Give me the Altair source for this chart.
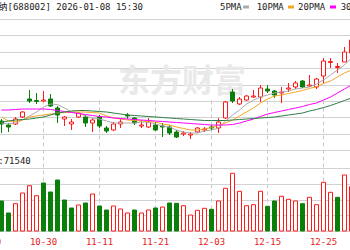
import altair as alt
import pandas as pd

# ---------------- data ----------------
lead_dates = ["10-20", "10-21"]
dates = ["10-22", "10-23", "10-24", "10-27", "10-28", "10-29", "10-30", "10-31",
         "11-03", "11-04", "11-05", "11-06", "11-07", "11-10", "11-11",
         "11-12", "11-13", "11-14", "11-17", "11-18", "11-19", "11-20", "11-21",
         "11-24", "11-25", "11-26", "11-27", "11-28", "12-01", "12-02", "12-03",
         "12-04", "12-05", "12-08", "12-09", "12-10", "12-11", "12-12", "12-15",
         "12-16", "12-17", "12-18", "12-19", "12-22", "12-23", "12-24", "12-25",
         "12-26", "12-29", "12-30", "12-31"]
label_dates = ["10-20", "10-30", "11-11", "11-21", "12-03", "12-15", "12-25"]

open_ = [89.5, 87.5, 88, 91.5, 100.5, 99.75, 99.5, 100.5, 96, 90.5,
         88, 91.5, 91.5, 88.5, 91.5, 86, 85, 88, 92.5, 91,
         87, 86.5, 87.5, 87, 86.5, 84, 83, 82.5, 84, 85,
         86.5, 86, 91, 104, 98, 100, 101.5, 101.5, 105.5, 104.5,
         103.5, 105.5, 106.5, 109.5, 107, 106.5, 112, 118.75, 116.25, 119,
         123.5]
close = [88, 86.5, 90.5, 94, 99.5, 99.25, 100, 97, 92.5, 91.5,
         89, 93.5, 88.5, 90, 87, 84.5, 88, 89, 92, 88.5,
         87.5, 89, 85, 86.5, 83.5, 81.5, 83.5, 83, 86, 85.5,
         86, 89, 99, 99.5, 100.5, 102, 102, 106, 104.5, 102.5,
         104, 106, 108.5, 106.5, 107.5, 110.5, 119.5, 119.25, 116.75, 124,
         130]
high = [90.5, 88.5, 91.5, 94.5, 105, 103.5, 104.5, 103, 97, 92,
        90.5, 94, 92.5, 91, 92.5, 87, 89, 90.5, 93.5, 91.5,
        90, 91, 89, 88.5, 87.5, 85, 84.5, 84, 86.5, 86.5,
        87.5, 91, 99.5, 105.5, 101.5, 102.5, 105, 107.5, 107.5, 105,
        106.5, 108.5, 109.5, 110, 112.5, 111, 121, 121, 118.5, 126.5,
        132]
low = [83.5, 84, 87.5, 91, 98.5, 98, 99, 96.5, 88.5, 87,
       85, 91, 86.5, 84, 86, 83.5, 84.5, 86, 90.5, 87.5,
       86, 86, 84.5, 81.5, 82.5, 81, 82, 80.5, 83.5, 84,
       85, 83.5, 90.5, 98.5, 97.5, 99.5, 101, 99, 103.5, 101,
       98.5, 104, 105.5, 106, 106.5, 105.5, 108.5, 116, 113.5, 119,
       123]
ma5 = [88.5, 88, 88.5, 90, 92, 94, 96.5, 98, 97.75, 96,
       94, 93.5, 92, 91, 90.5, 89.5, 88.5, 88.5, 88.5, 88.5,
       89, 89, 88, 87, 86.5, 85, 84, 83.5, 83.5, 84.5,
       85, 86, 89.5, 92.5, 95, 98, 100, 101.5, 102.5, 103.5,
       104, 104.5, 105.5, 106, 106.5, 108, 110, 112.5, 115, 117.5,
       121]
ma10 = [91.5, 89.5, 89.25, 90, 91.5, 92, 92.5, 93, 93.5, 93.75,
        94, 94, 94, 93.75, 93.5, 92, 91, 90.5, 90, 89.75,
        89.5, 89.25, 89, 88, 87.5, 86.5, 85.75, 85, 85, 85.5,
        86.25, 87.25, 88.5, 90, 92, 94, 96, 98.5, 100.5, 102,
        102.5, 103.25, 104, 104.75, 105.75, 106.75, 108.25, 109.5, 111.5, 113.5,
        115]
ma20 = [95, 95, 95.25, 95.5, 95.5, 95.5, 95.5, 95.25, 94.75, 94.25,
        93.75, 93.25, 92.75, 92.25, 91.75, 91.5, 91, 90.75, 90.5, 90.25,
        90, 89.75, 89.5, 89.25, 89, 88.75, 88.5, 88.25, 88, 87.75,
        87.5, 87.5, 87.5, 87.75, 88.5, 89.5, 90.5, 91.75, 93, 93.75,
        94.5, 95.25, 96, 96.75, 97.75, 98.5, 100, 101.5, 103.5, 105.5,
        107.5]
ma30 = [89, 89.5, 90, 90.25, 90.5, 91, 91.5, 92.5, 93.5, 94,
        94.5, 94.75, 94.75, 94.5, 94.25, 94, 93.5, 93, 92.5, 92.25,
        92, 91.75, 91.5, 91.25, 91, 90.75, 90.5, 90.25, 90, 89.75,
        89.75, 89.75, 89.75, 90, 90.25, 90.5, 90.75, 91, 91.25, 91.5,
        92, 92.5, 93, 93.5, 94.5, 95.25, 96.25, 97.25, 98.5, 99.75,
        101]
volume = [30000, 18000, 27300, 38000, 45300, 35300, 48000, 39000, 51000, 31000,
          23000, 26000, 28000, 37000, 25000, 21000, 25000, 22000, 18000, 21000,
          18000, 21000, 23000, 24000, 28000, 27700, 25300, 16000, 20700, 22700,
          21700, 30000, 42700, 57700, 39700, 25300, 26300, 39700, 24700, 30000,
          34700, 31700, 30000, 27300, 33700, 26300, 48700, 38700, 33700, 56000,
          44300]
vol_color = ["G", "G", "R", "R", "R", "R", "G", "G", "G", "G",
             "G", "R", "G", "R", "G", "G", "R", "R", "R", "G",
             "R", "R", "G", "R", "G", "G", "R", "R", "R", "R",
             "G", "R", "R", "R", "R", "R", "R", "R", "G", "G",
             "R", "R", "R", "G", "R", "R", "R", "R", "G", "R",
             "R"]

title_text = "睿创微纳[688002] 2026-01-08 15:30"
legend_labels = ["5PMA", "10PMA", "20PMA", "30PMA"]
legend_colors = ["#aaaaaa", "#f5a623", "#ff00ff", "#2e7d46"]
vol_text = "VOL:71540"
watermark = "东方财富"

# ---------------- table ----------------
df = pd.DataFrame({
    "idx": list(range(len(dates))), "date": dates,
    "open": open_, "close": close, "high": high, "low": low,
    "MA5": ma5, "MA10": ma10, "MA20": ma20, "MA30": ma30,
    "volume": volume,
})
df["dir"] = ["up" if c >= o else "down" for o, c in zip(open_, close)]
df["vdir"] = ["up" if v == "R" else "down" for v in vol_color]

RED = "#ff1a1a"
GREEN = "#0a7f0a"
MONO = "DejaVu Sans Mono, Noto Sans CJK SC"

x_enc = alt.X(
    "date:N",
    scale=alt.Scale(type="band", domain=lead_dates + dates, range=[-16, 355],
                    paddingInner=0, paddingOuter=0),
    axis=alt.Axis(values=label_dates, title=None, grid=True, gridDash=[4, 3],
                  gridColor="#c8c8c8", gridWidth=1, domain=False, ticks=False,
                  tickSize=0, labelPadding=10, labelBaseline="middle",
                  labelColor="#e82020", labelFont="DejaVu Sans Mono", labelFontSize=9,
                  labelOverlap=False, labelFlush=False, labelAngle=0, bandPosition=0.5),
)

price_grid = [75 + i * 8.1875 for i in range(9)]
price_scale = alt.Scale(domain=[75, 140.5], range=[131, 0], nice=False, zero=False)
price_axis = alt.Axis(values=price_grid, grid=True, gridColor="#d2d2d2", labels=False,
                      ticks=False, domain=False, title=None)

stroke_scale = alt.Scale(domain=["up", "down"], range=[RED, GREEN])
fill_scale = alt.Scale(domain=["up", "down"], range=["#ffffff", GREEN])

wicks = alt.Chart(df).mark_rule(strokeWidth=1).encode(
    x=x_enc,
    y=alt.Y("low:Q", scale=price_scale, axis=price_axis),
    y2="high:Q",
    stroke=alt.Stroke("dir:N", scale=stroke_scale, legend=None),
)
bodies = alt.Chart(df).mark_bar(size=4, strokeWidth=1).encode(
    x=x_enc,
    y=alt.Y("open:Q", scale=price_scale, axis=price_axis),
    y2="close:Q",
    fill=alt.Fill("dir:N", scale=fill_scale, legend=None),
    stroke=alt.Stroke("dir:N", scale=stroke_scale, legend=None),
)
ma_lines = alt.Chart(df).transform_fold(
    ["MA5", "MA10", "MA20", "MA30"], as_=["ma", "val"]
).mark_line(strokeWidth=1).encode(
    x=x_enc,
    y=alt.Y("val:Q", scale=price_scale, axis=price_axis),
    color=alt.Color("ma:N", scale=alt.Scale(domain=["MA5", "MA10", "MA20", "MA30"],
                                            range=legend_colors), legend=None),
    order=alt.Order("idx:Q"),
)
price = alt.layer(wicks, bodies, ma_lines)

vol_scale = alt.Scale(domain=[0, 63000], range=[212, 149], nice=False, zero=True)
vol_axis = alt.Axis(values=[0, 15750, 31500, 47250, 63000], grid=True, gridColor="#d2d2d2",
                    labels=False, ticks=False, domain=False, title=None, orient="right")
vol = alt.Chart(df).mark_bar(size=4, strokeWidth=1).encode(
    x=x_enc,
    y=alt.Y("volume:Q", scale=vol_scale, axis=vol_axis),
    fill=alt.Fill("vdir:N", scale=fill_scale, legend=None),
    stroke=alt.Stroke("vdir:N", scale=stroke_scale, legend=None),
)

def text_layer(txt, x, y, align, size=9, color="#222222", font=MONO, weight="normal"):
    return alt.Chart(pd.DataFrame({"t": [txt]})).mark_text(
        align=align, baseline="middle", font=font, fontSize=size, color=color,
        fontWeight=weight,
    ).encode(x=alt.value(x), y=alt.value(y), text="t:N")

wm = text_layer(watermark, 118, 63, "left", size=32, color="#e9e9e9",
                font="Noto Sans CJK SC", weight="bold")
title = text_layer(title_text, 143, -12, "right")
vol_label = text_layer(vol_text, 30.8, 142, "right")

legend_x = [220, 256.7, 298, 340.7]
swatch_x = [243, 288, 330, 373]
legend_layers = []
for lab, col, lx, sx in zip(legend_labels, legend_colors, legend_x, swatch_x):
    legend_layers.append(text_layer(lab, lx, -12, "left"))
    legend_layers.append(
        alt.Chart(pd.DataFrame({"t": [lab]})).mark_rule(strokeWidth=3, color=col).encode(
            x=alt.value(sx), x2=alt.value(sx + 6), y=alt.value(-12)
        )
    )

chart = alt.layer(wm, price, vol, title, vol_label, *legend_layers).resolve_scale(
    y="independent"
).properties(
    width=350, height=212,
    padding={"left": 0, "top": 19, "right": 0, "bottom": 19},
    autosize=alt.AutoSizeParams(type="none"),
).configure_view(strokeWidth=0)

chart.save("out.html", embed_options={"renderer": "svg", "actions": False})
